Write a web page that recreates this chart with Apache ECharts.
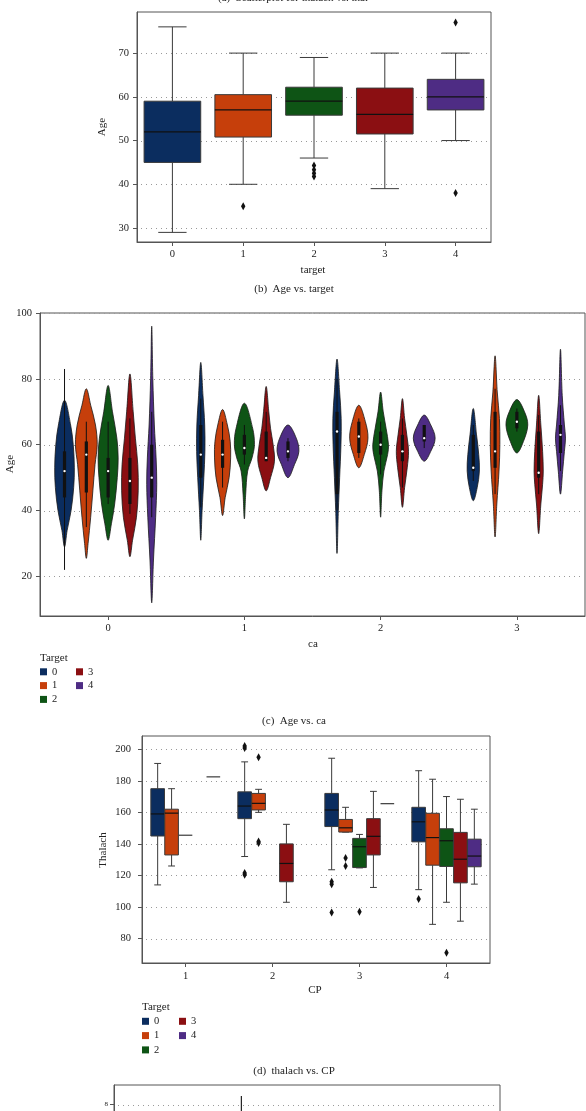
<!DOCTYPE html>
<html><head><meta charset="utf-8">
<script src="https://cdn.jsdelivr.net/npm/echarts@6/dist/echarts.min.js"></script>
<style>html,body{margin:0;padding:0;background:#fff}#c{width:586px;height:1111px}</style>
</head><body><div id="c"></div>
<script>
// ---------------- data ----------------
const targetLabels = ['0', '1', '2', '3', '4'];

// (b) Age vs. target : [min, q1, median, q3, max]
const ageByTarget = [
  [29, 45, 52, 59, 76],
  [40, 50.8, 57, 60.5, 70],
  [46, 55.8, 59, 62.2, 69],
  [39, 51.5, 56, 62, 70],
  [50, 57, 60, 64, 70]
];
const ageOutliers = [[1, 35], [2, 44.3], [2, 43.3], [2, 42.5], [2, 41.8], [4, 77], [4, 38]];
const ageTicks = [30, 40, 50, 60, 70];

// (c) Age vs. ca : violin density profiles [age, relative half width] per ca, per target
const caLabels = ['0', '1', '2', '3'];
const violinProfiles = [
  [
    [[29,0],[34,0.12],[40,0.3],[47,0.42],[53,0.45],[60,0.4],[66,0.28],[73.5,0]],
    [[25.5,0],[30,0.08],[38,0.2],[46,0.3],[54,0.4],[60,0.5],[66,0.42],[72,0.2],[77,0]],
    [[31,0],[36,0.15],[42,0.3],[50,0.42],[56,0.46],[62,0.4],[70,0.2],[78,0]],
    [[26,0],[31,0.12],[38,0.3],[46,0.38],[54,0.36],[62,0.25],[70,0.15],[81.5,0]],
    [[12,0],[25,0.08],[38,0.18],[48,0.23],[56,0.2],[66,0.12],[80,0.05],[96,0]]
  ],
  [
    [[31,0],[40,0.06],[50,0.14],[58,0.19],[66,0.18],[75,0.1],[85,0]],
    [[38.5,0],[44,0.12],[50,0.3],[56,0.37],[61,0.35],[66,0.22],[70.7,0]],
    [[37.5,0],[45,0.06],[52,0.15],[56,0.35],[60,0.46],[65,0.38],[72.6,0]],
    [[46,0],[50,0.2],[55,0.38],[60,0.32],[65,0.2],[70,0.12],[77.7,0]],
    [[50,0],[54,0.3],[58,0.5],[62,0.38],[66,0]]
  ],
  [
    [[27,0],[40,0.06],[50,0.12],[60,0.18],[68,0.19],[76,0.12],[86,0]],
    [[53,0],[57,0.25],[62,0.42],[67,0.3],[72,0]],
    [[38,0],[46,0.06],[52,0.15],[57,0.32],[60,0.36],[65,0.25],[70,0.12],[76,0]],
    [[41,0],[47,0.1],[53,0.22],[58,0.28],[63,0.2],[68,0.1],[74,0]],
    [[55,0],[58,0.3],[62,0.5],[66,0.3],[69,0]]
  ],
  [
    [[43,0],[47,0.18],[52,0.28],[57,0.25],[63,0.15],[71,0]],
    [[32,0],[42,0.08],[52,0.18],[60,0.22],[68,0.2],[76,0.1],[87,0]],
    [[57.5,0],[61,0.3],[66,0.5],[70,0.35],[73.7,0]],
    [[33,0],[42,0.1],[48,0.18],[52,0.21],[58,0.18],[66,0.1],[75,0]],
    [[45,0],[52,0.1],[58,0.18],[62,0.23],[66,0.18],[75,0.08],[89,0]]
  ]
];
// inner box: [whiskerLow, q1, median, q3, whiskerHigh]
const violinInner = [
  [[22,44,52,58,83],[35,45.5,57,61,67],[42,44,52,56,67],[39,42,49,56,68],[38,44,50,60,70]],
  [[41,50,57,66,74],[47,53,57,61.5,67],[54,57,59,63,66],[55,55,56,64,70],[55,56,58,61,62]],
  [[40,45,64,70,80],[56,57.5,62.5,67,68],[51,57,60,64,67],[47,55,58,63,68],[59,61,62,66,66]],
  [[49,52,53,63,66],[45,53,58,70,77],[64,65,67,70,71],[45,50,51.5,64,69],[52,57.5,63,66,72]]
];
const violinTicks = [20, 40, 60, 80, 100];

// (d) thalach vs. CP : [cpIndex, target, min, q1, median, q3, max]
const cpLabels = ['1', '2', '3', '4'];
const thalachBoxes = [
  [0,0,114,145,159,175,191],
  [0,1,126,133,159.5,162,175],
  [0,2,145.5,145.5,145.5,145.5,145.5],
  [0,4,182.5,182.5,182.5,182.5,182.5],
  [1,0,132,156,164,173,192],
  [1,1,160,161.5,165.7,172,174.6],
  [1,3,103,116,127.6,140,152.4],
  [2,0,123.6,151,161.5,172,194.3],
  [2,1,147.5,147.5,150.2,155.5,163.2],
  [2,2,124.8,125,138.2,143.5,146],
  [2,3,112.4,133,144.8,156,173.3],
  [2,4,165.5,165.5,165.5,165.5,165.5],
  [3,0,111,141.3,154,163.2,186.4],
  [3,1,89,126.5,144,159.4,181],
  [3,2,103,125.7,142,149.6,170],
  [3,3,91,115.3,130.3,147.3,168.3],
  [3,4,114.5,125.5,132.3,143,162]
];
const thalachOutliers = [
  [1,0,202],[1,0,200.8],[1,0,121.5],[1,0,120.5],[1,1,195],[1,1,141.5],[1,1,140.5],
  [2,0,116],[2,0,114.5],[2,0,96.5],[2,1,131],[2,1,126],[2,2,97],
  [3,0,105],[3,2,71]
];
const thalachTicks = [80, 100, 120, 140, 160, 180, 200];

// (e) partially visible panel : [catIndex, target, low, high] whisker segment
const nextLabels = ['0', '1'];
const nextSegments = [[0, 3, 3, 8.35]];
const nextTicks = [0, 2, 4, 6, 8];

// ---------------- style ----------------
const FONT = 'Liberation Serif';
const palette = ['#0b2d5f', '#c63f0b', '#0e5415', '#8b0f12', '#4e2c84'];
const frameColor = '#555';
const edgeColor = '#3a3a3a';
const textColor = '#222';

const chart = echarts.init(document.getElementById('c'), null, {renderer: 'canvas', width: 586, height: 1111});

function gridLineSeries(idx, ticks) {
  return {
    type: 'custom', xAxisIndex: idx, yAxisIndex: idx, silent: true, z: 1,
    data: ticks.map(v => [0, v]), encode: {x: 0, y: 1},
    renderItem: (params, api) => {
      const cs = params.coordSys;
      const y = Math.round(api.coord([0, api.value(1)])[1]) + 0.5;
      return {type: 'line', shape: {x1: cs.x + 4, y1: y, x2: cs.x + cs.width - 3, y2: y},
        style: {stroke: '#9a9a9a', lineWidth: 1, lineDash: [1, 4]}};
    }
  };
}

function boxRender(nHue) {
  return function (params, api) {
    const cat = api.value(0), hue = api.value(1);
    const lo = api.value(2), q1 = api.value(3), med = api.value(4), q3 = api.value(5), hi = api.value(6);
    const band = api.size([1, 0])[0];
    const slot = band * 0.8 / nHue;
    const cx = api.coord([cat, med])[0] + (nHue > 1 ? (hue - (nHue - 1) / 2) * slot : 0);
    const bw = nHue > 1 ? slot * 0.98 : band * 0.8;
    const Y = v => api.coord([cat, v])[1];
    const color = palette[nHue > 1 ? hue : cat];
    const ls = {stroke: edgeColor, lineWidth: 1};
    const cap = bw / 4;
    if (q3 - q1 < 1e-9 && hi - lo < 1e-9) {
      return {type: 'line', shape: {x1: cx - bw / 2, y1: Y(med), x2: cx + bw / 2, y2: Y(med)},
        style: {stroke: edgeColor, lineWidth: 1.2}};
    }
    return {
      type: 'group', children: [
        {type: 'line', shape: {x1: cx, y1: Y(lo), x2: cx, y2: Y(q1)}, style: ls},
        {type: 'line', shape: {x1: cx, y1: Y(q3), x2: cx, y2: Y(hi)}, style: ls},
        {type: 'line', shape: {x1: cx - cap, y1: Y(lo), x2: cx + cap, y2: Y(lo)}, style: ls},
        {type: 'line', shape: {x1: cx - cap, y1: Y(hi), x2: cx + cap, y2: Y(hi)}, style: ls},
        {type: 'rect', shape: {x: cx - bw / 2, y: Y(q3), width: bw, height: Y(q1) - Y(q3)},
          style: {fill: color, stroke: edgeColor, lineWidth: 1}},
        {type: 'line', shape: {x1: cx - bw / 2, y1: Y(med), x2: cx + bw / 2, y2: Y(med)},
          style: {stroke: '#111', lineWidth: 1.2}}
      ]
    };
  };
}

function outlierRender(nHue) {
  return function (params, api) {
    const cat = api.value(0), hue = api.value(1), v = api.value(2);
    const band = api.size([1, 0])[0];
    const slot = band * 0.8 / nHue;
    const p = api.coord([cat, v]);
    const cx = p[0] + (nHue > 1 ? (hue - (nHue - 1) / 2) * slot : 0);
    const y = p[1];
    return {type: 'polygon', shape: {points: [[cx, y - 4], [cx + 2.2, y], [cx, y + 4], [cx - 2.2, y]]},
      style: {fill: '#111'}};
  };
}

function violinRender(params, api) {
  const ca = api.value(0), t = api.value(1);
  const prof = violinProfiles[ca][t];
  const inner = violinInner[ca][t];
  const band = api.size([1, 0])[0];
  const slot = band * 0.8 / 5;
  const cx = api.coord([ca, 50])[0] + (t - 2) * slot;
  const Y = v => api.coord([ca, v])[1];
  const pts = [];
  for (let i = 0; i < prof.length; i++) pts.push([cx + prof[i][1] * slot, Y(prof[i][0])]);
  for (let i = prof.length - 2; i >= 1; i--) pts.push([cx - prof[i][1] * slot, Y(prof[i][0])]);
  return {
    type: 'group', children: [
      {type: 'polygon', shape: {points: pts, smooth: 0.35},
        style: {fill: palette[t], stroke: '#1a1a1a', lineWidth: 0.8}},
      {type: 'line', shape: {x1: cx, y1: Y(inner[0]), x2: cx, y2: Y(inner[4])},
        style: {stroke: '#111', lineWidth: 1}},
      {type: 'rect', shape: {x: cx - 1.6, y: Y(inner[3]), width: 3.2, height: Y(inner[1]) - Y(inner[3])},
        style: {fill: '#111'}},
      {type: 'circle', shape: {cx: cx, cy: Y(inner[2]), r: 1.2}, style: {fill: '#fff'}}
    ]
  };
}

function segmentRender(nHue) {
  return function (params, api) {
    const cat = api.value(0), hue = api.value(1);
    const band = api.size([1, 0])[0];
    const slot = band * 0.8 / nHue;
    const cx = api.coord([cat, 0])[0] + (hue - (nHue - 1) / 2) * slot;
    return {type: 'line', shape: {x1: cx, y1: api.coord([cat, api.value(2)])[1], x2: cx, y2: api.coord([cat, api.value(3)])[1]},
      style: {stroke: '#222', lineWidth: 1.2}};
  };
}

function xAxisCfg(idx, data, margin, fs) {
  return {
    gridIndex: idx, type: 'category', data: data, boundaryGap: true,
    axisLine: {show: true, lineStyle: {color: frameColor}},
    axisTick: {show: true, alignWithLabel: true, length: 4, lineStyle: {color: frameColor}},
    axisLabel: {color: textColor, fontFamily: FONT, fontSize: fs || 10.5, margin: margin},
    splitLine: {show: false}
  };
}
function yAxisCfg(idx, min, max, ticks, margin, fs) {
  return {
    gridIndex: idx, type: 'value', min: min, max: max,
    axisLine: {show: true, lineStyle: {color: frameColor}},
    axisTick: {show: true, length: 4, lineStyle: {color: frameColor}, customValues: ticks},
    axisLabel: {color: textColor, fontFamily: FONT, fontSize: fs || 10.5, margin: margin, customValues: ticks},
    splitLine: {show: false}
  };
}

function txt(x, y, s, opts) {
  opts = opts || {};
  return {type: 'text', x: x, y: y, rotation: opts.rot || 0, silent: true,
    style: {text: s, fill: textColor, fontFamily: FONT, fontSize: opts.fs || 11,
      align: opts.align || 'center', verticalAlign: 'middle'}};
}
function legend(x, y, dy, col2dx) {
  const items = [txt(x, y, 'Target', {align: 'left', fs: 11})];
  const pos = [[0, 1], [0, 2], [0, 3], [1, 1], [1, 2]];
  targetLabels.forEach((lab, i) => {
    const px = x + pos[i][0] * col2dx, py = y + pos[i][1] * dy;
    items.push({type: 'rect', shape: {x: px, y: py - 3.5, width: 7, height: 7}, style: {fill: palette[i]}, silent: true});
    items.push(txt(px + 12, py, lab, {align: 'left', fs: 10.5}));
  });
  return items;
}

const gridBase = {show: true, borderColor: frameColor, borderWidth: 1, containLabel: false, outerBoundsMode: 'none'};
const option = {
  animation: false,
  backgroundColor: '#fff',
  grid: [
    Object.assign({left: 137, top: 12, width: 354, height: 230}, gridBase),
    Object.assign({left: 40, top: 313, width: 545, height: 303}, gridBase),
    Object.assign({left: 142, top: 736, width: 348, height: 227}, gridBase),
    Object.assign({left: 114, top: 1085, width: 386, height: 226}, gridBase)
  ],
  xAxis: [
    xAxisCfg(0, targetLabels, 7),
    xAxisCfg(1, caLabels, 7),
    xAxisCfg(2, cpLabels, 8),
    xAxisCfg(3, nextLabels, 7, 7)
  ],
  yAxis: [
    yAxisCfg(0, 26.8, 79.4, ageTicks, 8),
    yAxisCfg(1, 8, 100, violinTicks, 8),
    yAxisCfg(2, 64.5, 208.4, thalachTicks, 11),
    yAxisCfg(3, -0.4, 8.8, nextTicks, 6, 7)
  ],
  series: [
    gridLineSeries(0, ageTicks),
    gridLineSeries(1, violinTicks),
    gridLineSeries(2, thalachTicks),
    gridLineSeries(3, nextTicks),
    {type: 'custom', xAxisIndex: 0, yAxisIndex: 0, z: 3, renderItem: boxRender(1),
      data: ageByTarget.map((r, i) => [i, i].concat(r)), encode: {x: 0, y: [2, 6]}},
    {type: 'custom', xAxisIndex: 0, yAxisIndex: 0, z: 4, renderItem: outlierRender(1),
      data: ageOutliers.map(r => [r[0], r[0], r[1]]), encode: {x: 0, y: 2}},
    {type: 'custom', xAxisIndex: 1, yAxisIndex: 1, z: 3, renderItem: violinRender,
      data: caLabels.flatMap((c, ci) => targetLabels.map((t, ti) => [ci, ti])), encode: {x: 0}},
    {type: 'custom', xAxisIndex: 2, yAxisIndex: 2, z: 3, renderItem: boxRender(5),
      data: thalachBoxes, encode: {x: 0, y: [2, 6]}},
    {type: 'custom', xAxisIndex: 2, yAxisIndex: 2, z: 4, renderItem: outlierRender(5),
      data: thalachOutliers, encode: {x: 0, y: 2}},
    {type: 'custom', xAxisIndex: 3, yAxisIndex: 3, z: 3, renderItem: segmentRender(5),
      data: nextSegments, encode: {x: 0, y: [2, 3]}}
  ],
  graphic: [
    txt(293, -2, '(a)  Scatterplot for thalach vs. thal'),
    txt(102, 127, 'Age', {rot: Math.PI / 2}),
    txt(313, 270, 'target'),
    txt(294, 289, '(b)  Age vs. target'),
    txt(10, 464, 'Age', {rot: Math.PI / 2}),
    txt(313, 644, 'ca'),
    txt(294, 721, '(c)  Age vs. ca'),
    txt(103, 850, 'Thalach', {rot: Math.PI / 2}),
    txt(315, 990, 'CP'),
    txt(294, 1071, '(d)  thalach vs. CP')
  ].concat(legend(40, 658, 13.8, 36)).concat(legend(142, 1007, 14.3, 37))
};
chart.setOption(option);
</script>
</body></html>
